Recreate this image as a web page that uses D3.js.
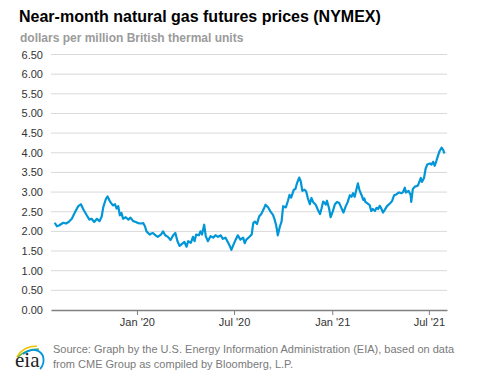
<!DOCTYPE html>
<html>
<head>
<meta charset="utf-8">
<script src="https://cdn.jsdelivr.net/npm/d3@7"></script>
<style>
  html, body { margin: 0; padding: 0; background: #fff; }
  svg { display: block; font-family: "Liberation Sans", Arial, sans-serif; }
</style>
</head>
<body>
<svg id="chart" width="477" height="379"></svg>
<script>
const titleText = "Near-month natural gas futures prices (NYMEX)";
const subtitleText = "dollars per million British thermal units";
const sourceLines = [
  "Source: Graph by the U.S. Energy Information Administration (EIA), based on data",
  "from CME Group as compiled by Bloomberg, L.P."
];
const yTicks = [0, 0.5, 1, 1.5, 2, 2.5, 3, 3.5, 4, 4.5, 5, 5.5, 6, 6.5];
const xTickDates = ["2020-01-01", "2020-07-01", "2021-01-01", "2021-07-01"];
const xTickLabels = ["Jan '20", "Jul '20", "Jan '21", "Jul '21"];
const xDomain = ["2019-07-24", "2021-08-04"];

const dates = [
"2019-07-31","2019-08-04","2019-08-08","2019-08-16","2019-08-21","2019-08-26","2019-09-01","2019-09-07","2019-09-13","2019-09-18",
"2019-09-23","2019-09-29","2019-10-04","2019-10-08","2019-10-13","2019-10-18","2019-10-23","2019-10-27","2019-10-30","2019-11-04",
"2019-11-07","2019-11-12","2019-11-17","2019-11-21","2019-11-24","2019-11-27","2019-11-30","2019-12-03","2019-12-06","2019-12-11",
"2019-12-16","2019-12-20","2019-12-25","2019-12-30","2020-01-03","2020-01-08","2020-01-13","2020-01-16","2020-01-19","2020-01-22",
"2020-01-25","2020-01-27","2020-01-31","2020-02-05","2020-02-09","2020-02-15","2020-02-19","2020-02-23","2020-02-28","2020-03-04",
"2020-03-09","2020-03-13","2020-03-17","2020-03-21","2020-03-26","2020-03-30","2020-04-03","2020-04-06","2020-04-11","2020-04-15",
"2020-04-18","2020-04-21","2020-04-26","2020-04-29","2020-05-02","2020-05-06","2020-05-09","2020-05-13","2020-05-18","2020-05-23",
"2020-05-27","2020-06-01","2020-06-06","2020-06-10","2020-06-15","2020-06-20","2020-06-23","2020-06-26","2020-06-29","2020-07-04",
"2020-07-08","2020-07-13","2020-07-18","2020-07-21","2020-07-24","2020-07-29","2020-08-03","2020-08-06","2020-08-09","2020-08-13",
"2020-08-17","2020-08-21","2020-08-26","2020-08-29","2020-09-03","2020-09-07","2020-09-12","2020-09-15","2020-09-18","2020-09-21",
"2020-09-25","2020-09-28","2020-10-01","2020-10-06","2020-10-10","2020-10-13","2020-10-16","2020-10-21","2020-10-24","2020-10-27",
"2020-10-31","2020-11-03","2020-11-06","2020-11-10","2020-11-13","2020-11-16","2020-11-20","2020-11-23","2020-11-26","2020-12-01",
"2020-12-05","2020-12-09","2020-12-12","2020-12-15","2020-12-20","2020-12-22","2020-12-26","2020-12-29","2021-01-02","2021-01-06",
"2021-01-10","2021-01-14","2021-01-17","2021-01-22","2021-01-26","2021-01-30","2021-02-03","2021-02-06","2021-02-09","2021-02-12",
"2021-02-15","2021-02-18","2021-02-21","2021-02-25","2021-02-28","2021-03-02","2021-03-04","2021-03-08","2021-03-12","2021-03-15",
"2021-03-18","2021-03-22","2021-03-25","2021-03-28","2021-03-31","2021-04-03","2021-04-06","2021-04-09","2021-04-14","2021-04-19",
"2021-04-23","2021-04-27","2021-05-01","2021-05-06","2021-05-11","2021-05-14","2021-05-17","2021-05-19","2021-05-24","2021-05-27",
"2021-05-28","2021-05-29","2021-06-01","2021-06-05","2021-06-10","2021-06-12","2021-06-16","2021-06-18","2021-06-22","2021-06-25",
"2021-06-28","2021-07-03","2021-07-06","2021-07-09","2021-07-12","2021-07-15","2021-07-18","2021-07-21","2021-07-25","2021-07-28",
"2021-07-30"
];
const prices = [
2.22,2.13,2.15,2.22,2.20,2.24,2.32,2.49,2.64,2.69,
2.55,2.41,2.30,2.32,2.24,2.32,2.26,2.38,2.62,2.83,
2.89,2.75,2.66,2.69,2.58,2.64,2.41,2.47,2.32,2.36,
2.30,2.35,2.26,2.24,2.21,2.20,2.21,2.13,2.00,1.96,
1.92,1.94,1.96,1.90,1.86,1.92,2.00,1.90,1.86,1.78,
1.90,1.96,1.75,1.63,1.69,1.73,1.61,1.75,1.71,1.86,
1.75,1.92,1.90,2.00,1.92,2.17,1.88,1.75,1.88,1.84,
1.90,1.86,1.90,1.81,1.84,1.71,1.63,1.53,1.63,1.79,
1.90,1.79,1.84,1.70,1.79,1.85,1.92,2.21,2.25,2.19,
2.38,2.44,2.58,2.68,2.61,2.51,2.42,2.30,2.15,1.90,
2.13,2.25,2.64,2.61,2.78,2.93,2.86,3.06,3.08,3.23,
3.37,3.27,3.03,3.06,3.02,2.86,2.69,2.85,2.75,2.68,
2.55,2.44,2.59,2.76,2.68,2.78,2.59,2.36,2.51,2.69,
2.75,2.72,2.63,2.48,2.63,2.75,2.92,2.88,2.97,2.88,
3.05,3.22,3.05,2.92,2.80,2.84,2.75,2.71,2.67,2.52,
2.57,2.52,2.60,2.57,2.65,2.58,2.48,2.54,2.65,2.71,
2.77,2.92,2.94,2.99,2.97,3.01,3.11,2.99,3.03,2.95,
2.92,2.75,3.08,3.14,3.16,3.22,3.36,3.26,3.36,3.60,
3.70,3.73,3.70,3.77,3.67,3.79,3.92,4.04,4.13,4.07,
3.98
];

(function () {
const parse = d3.timeParse("%Y-%m-%d");
const data = dates.map((d, i) => ({ date: parse(d), value: prices[i] }));

const svg = d3.select("#chart");
const mLeft = 51, mRight = 447, mTop = 54.5, mBottom = 310;

const x = d3.scaleTime().domain(xDomain.map(parse)).range([mLeft, mRight]);
const y = d3.scaleLinear().domain([0, 6.5]).range([mBottom, mTop]);

// Title & subtitle
svg.append("text").attr("x", 19).attr("y", 22)
  .attr("font-size", 16).attr("font-weight", "bold").attr("fill", "#000")
  .text(titleText);
svg.append("text").attr("x", 20).attr("y", 42)
  .attr("font-size", 12).attr("font-weight", "bold").attr("fill", "#9b9b9b")
  .text(subtitleText);

// Gridlines
svg.append("g").selectAll("line").data(yTicks.filter(v => v > 0)).join("line")
  .attr("x1", mLeft).attr("x2", mRight)
  .attr("y1", d => y(d)).attr("y2", d => y(d))
  .attr("stroke", "#d9d9d9").attr("stroke-width", 1);

// Y axis labels
const yAxis = d3.axisLeft(y).tickValues(yTicks).tickFormat(d3.format(".2f")).tickSize(0).tickPadding(8);
const gy = svg.append("g").attr("transform", `translate(${mLeft},0)`).call(yAxis);
gy.select(".domain").remove();
gy.selectAll("text").attr("font-size", 11).attr("fill", "#333").attr("font-family", "Liberation Sans, Arial, sans-serif");

// X axis
const xAxis = d3.axisBottom(x).tickValues(xTickDates.map(parse))
  .tickFormat((d, i) => xTickLabels[i]).tickSize(5).tickSizeOuter(0).tickPadding(3);
const gx = svg.append("g").attr("transform", `translate(0,${mBottom})`).call(xAxis);
gx.select(".domain").attr("stroke", "#808080").attr("stroke-width", 1.5);
gx.selectAll(".tick line").attr("stroke", "#808080");
gx.selectAll("text").attr("font-size", 11).attr("fill", "#333").attr("font-family", "Liberation Sans, Arial, sans-serif");

// Line
const line = d3.line().x(d => x(d.date)).y(d => y(d.value));
svg.append("path").datum(data)
  .attr("fill", "none").attr("stroke", "#0096d7").attr("stroke-width", 2.2)
  .attr("stroke-linejoin", "round").attr("d", line);

// Source
svg.append("g").selectAll("text").data(sourceLines).join("text")
  .attr("x", 53).attr("y", (d, i) => 353 + i * 15)
  .attr("font-size", 11).attr("fill", "#7a7a7a").text(d => d);

// EIA logo
const logo = svg.append("g");
logo.append("path").attr("d", "M17,357 Q23,346 37,346").attr("fill", "none").attr("stroke", "#f2c300").attr("stroke-width", 1.6);
logo.append("path").attr("d", "M18,357 Q26,349 39,349").attr("fill", "none").attr("stroke", "#6cb33f").attr("stroke-width", 1.6);
logo.append("path").attr("d", "M23,354 Q37,345 43,356 Q45,364 40,369").attr("fill", "none").attr("stroke", "#0096d7").attr("stroke-width", 1.8);
logo.append("text").attr("x", 15).attr("y", 367)
  .attr("font-family", "Liberation Serif, DejaVu Serif, serif").attr("font-size", 21).attr("fill", "#222")
  .text("eia");
})();
</script>
</body>
</html>
